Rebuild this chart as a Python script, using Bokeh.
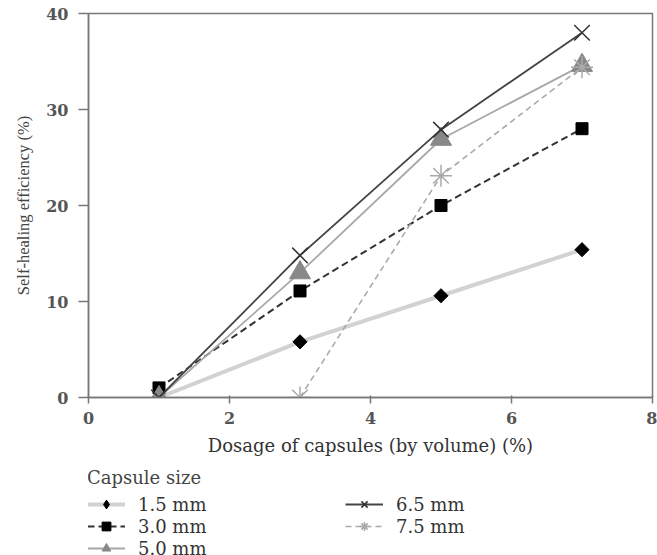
from bokeh.plotting import figure
from bokeh.layouts import column
from bokeh.models import Legend, LegendItem, FixedTicker, Range1d
from bokeh.embed import file_html
from bokeh.resources import INLINE

# Data
dosage = [1, 3, 5, 7]
eff_15 = [0.0, 5.8, 10.6, 15.4]
eff_30 = [1.0, 11.1, 20.0, 28.0]
eff_50 = [0.0, 13.0, 26.9, 34.6]
eff_65 = [0.0, 14.8, 27.9, 38.0]
dosage_75 = [3, 5, 7]
eff_75 = [0.0, 23.1, 34.4]
x_ticks = [0, 2, 4, 6, 8]
y_ticks = [0, 10, 20, 30, 40]
labels = ["1.5 mm", "3.0 mm", "5.0 mm", "6.5 mm", "7.5 mm"]

SERIF = "DejaVu Serif"
NARROW = "Liberation Serif"

LINE_STYLES = [
    dict(line_color="#d2d2d2", line_width=4),
    dict(line_color="#333333", line_width=2, line_dash="7 4"),
    dict(line_color="#a8a8a8", line_width=1.8),
    dict(line_color="#444444", line_width=1.8),
    dict(line_color="#aaaaaa", line_width=1.6, line_dash="6 4"),
]
MARK_STYLES = [
    dict(marker="square", angle=0.785, size=10, color="black"),
    dict(marker="square", size=12, color="black"),
    dict(marker="triangle", size=21, color="#888888"),
    dict(marker="x", size=22, line_color="#333333", line_width=1.5),
    dict(marker="asterisk", size=22, line_color="#aaaaaa", line_width=1.5),
]
LEGEND_MARK_STYLES = [dict(MARK_STYLES[0], marker="diamond", angle=0)] + MARK_STYLES[1:]
series_x = [dosage, dosage, dosage, dosage, dosage_75]
series_y = [eff_15, eff_30, eff_50, eff_65, eff_75]

W = 657
H_MAIN = 462
H_LEG = 93

p = figure(width=W, height=H_MAIN, output_backend="svg",
           toolbar_location=None, x_range=Range1d(0, 8), y_range=Range1d(0, 40),
           min_border_left=88, min_border_top=13, min_border_right=5,
           min_border_bottom=65)
p.background_fill_color = "white"
p.border_fill_color = "white"
p.outline_line_color = "#777777"
p.outline_line_width = 1.5
p.xgrid.visible = False
p.ygrid.visible = False

for ax in (p.xaxis[0], p.yaxis[0]):
    ax.axis_line_color = "#777777"
    ax.axis_line_width = 1.5
    ax.major_tick_line_color = "#777777"
    ax.major_tick_line_width = 1.5
    ax.minor_tick_line_color = None
    ax.major_label_text_font = SERIF
    ax.major_label_text_font_size = "16px"
    ax.major_label_text_font_style = "bold"
    ax.major_label_text_color = "#555555"
    ax.axis_label_text_font_style = "normal"

p.xaxis.major_tick_out = 6
p.xaxis.major_tick_in = 2
p.yaxis.major_tick_out = 10
p.yaxis.major_tick_in = 0
p.xaxis.major_label_standoff = 8
p.yaxis.major_label_standoff = 10
p.xaxis.ticker = FixedTicker(ticks=x_ticks)
p.yaxis.ticker = FixedTicker(ticks=y_ticks)
p.xaxis.axis_label = "Dosage of capsules (by volume) (%)"
p.yaxis.axis_label = "Self-healing efficiency (%)"
p.xaxis.axis_label_text_font = SERIF
p.xaxis.axis_label_text_font_size = "18px"
p.xaxis.axis_label_text_color = "#333333"
p.yaxis.axis_label_text_font = NARROW
p.yaxis.axis_label_text_font_size = "16.5px"
p.yaxis.axis_label_text_color = "#444444"
p.xaxis.axis_label_standoff = 8
p.yaxis.axis_label_standoff = 10

for xs, ys, ls, ms in zip(series_x, series_y, LINE_STYLES, MARK_STYLES):
    p.line(xs, ys, **ls)
    p.scatter(xs, ys, **ms)

# Legend strip: the same series, drawn outside its visible range, so that
# only their legend glyphs show.
q = figure(width=W, height=H_LEG, output_backend="svg", toolbar_location=None,
           x_axis_type=None, y_axis_type=None,
           x_range=Range1d(100, 101), y_range=Range1d(100, 101),
           min_border_left=0, min_border_right=0, min_border_top=0, min_border_bottom=0)
q.outline_line_color = None
q.background_fill_color = "white"
q.border_fill_color = "white"

items = []
for lab, xs, ys, ls, ms in zip(labels, series_x, series_y, LINE_STYLES, LEGEND_MARK_STYLES):
    lr = q.line(xs, ys, **ls)
    mr = q.scatter(xs, ys, **ms)
    items.append(LegendItem(label=lab, renderers=[lr, mr]))

legend = Legend(items=items, nrows=3, title="Capsule size",
                location=(-1, -4), orientation="vertical")
legend.title_text_font = SERIF
legend.title_text_font_size = "18px"
legend.title_text_font_style = "normal"
legend.title_text_color = "#444444"
legend.title_standoff = 5
legend.label_text_font = SERIF
legend.label_text_font_size = "18px"
legend.label_text_color = "#333333"
legend.label_width = 207
legend.label_height = 22
legend.glyph_width = 38
legend.glyph_height = 22
legend.spacing = 0
legend.label_standoff = 13
legend.border_line_color = None
legend.background_fill_alpha = 0
legend.margin = 0
legend.padding = 0
q.add_layout(legend, "center")

layout = column(p, q, spacing=0)
open("out.html", "w").write(file_html(layout, INLINE))
